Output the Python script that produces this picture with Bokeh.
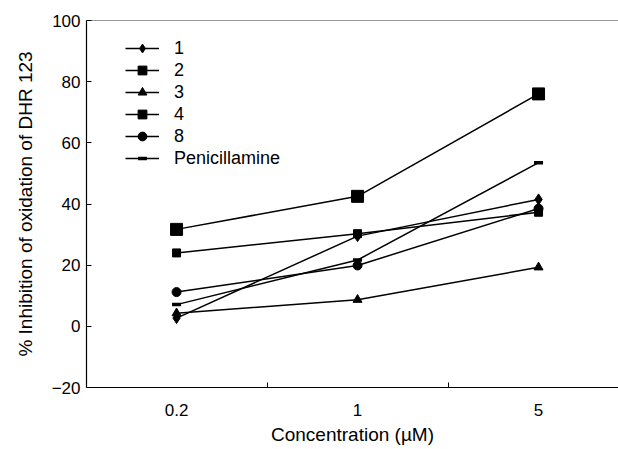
from bokeh.plotting import figure
from bokeh.models import (FixedTicker, CustomJSTickFormatter, LinearAxis, Legend,
                          LegendItem, Range1d)
from bokeh.embed import file_html
from bokeh.resources import INLINE

# ---- data ----
concentration = [0.2, 1, 5]
tick_labels = ["0.2", "1", "5"]
series_names = ["1", "2", "3", "4", "8", "Penicillamine"]
s1 = [2.7, 29.5, 41.5]
s2 = [24.0, 30.3, 37.3]
s3 = [4.3, 8.7, 19.3]
s4 = [31.7, 42.5, 76.0]
s8 = [11.2, 19.9, 38.5]
penicillamine = [7.1, 21.7, 53.5]

FONT = "Liberation Sans"

p = figure(width=618, height=449, output_backend="svg", toolbar_location=None,
           x_axis_type="log", x_range=Range1d(0.0898, 10.18),
           y_range=Range1d(-20, 100),
           min_border_left=86, min_border_right=0, min_border_top=20,
           min_border_bottom=62)
p.outline_line_color = None
p.grid.grid_line_color = None
p.background_fill_color = "white"

# x axis
xa = p.xaxis[0]
xa.ticker = FixedTicker(ticks=concentration, minor_ticks=[0.4472, 2.236])
xa.formatter = CustomJSTickFormatter(code="return tick < 1 ? tick.toFixed(1) : tick.toFixed(0);")
xa.major_tick_line_color = None
xa.minor_tick_in = 5
xa.minor_tick_out = 0
xa.minor_tick_line_color = "black"
xa.axis_line_color = "black"
xa.axis_line_width = 1.2
xa.axis_label = "Concentration (\u00b5M)"
xa.major_label_standoff = 10
xa.axis_label_standoff = 5

# y axis
ya = p.yaxis[0]
ya.ticker = FixedTicker(ticks=[-20, 0, 20, 40, 60, 80, 100], minor_ticks=[])
ya.major_tick_in = 5
ya.major_tick_out = 0
ya.axis_line_width = 1.2
ya.axis_label = "% Inhibition of oxidation of DHR 123"
ya.major_label_standoff = 6
ya.axis_label_standoff = 13

for ax in (xa, ya):
    ax.major_label_text_font = FONT
    ax.major_label_text_font_size = "17px"
    ax.major_label_text_color = "black"
    ax.axis_label_text_font = FONT
    ax.axis_label_text_font_size = "19px"
    ax.axis_label_text_font_style = "normal"
    ax.axis_label_text_color = "black"

# top border as a plain axis
top = LinearAxis(ticker=FixedTicker(ticks=[]), major_label_text_font_size="0px",
                 major_tick_line_color=None, minor_tick_line_color=None,
                 axis_line_color="#9a9a9a", axis_line_width=1)
p.add_layout(top, "above")

styles = [
    (s1, "diamond", 11),
    (s2, "square", 8),
    (s3, "triangle", 9),
    (s4, "square", 12),
    (s8, "circle", 9),
    (penicillamine, "dash", 9),
]

items = []
for name, (vals, marker, size) in zip(series_names, styles):
    ln = p.line(concentration, vals, line_color="black", line_width=1.5)
    if marker == "dash":
        sc = p.scatter(concentration, vals, marker="dash", size=size,
                       line_color="black", line_width=3.5)
    else:
        sc = p.scatter(concentration, vals, marker=marker, size=size,
                       fill_color="black", line_color="black")
    items.append(LegendItem(label=name, renderers=[ln, sc]))

legend = Legend(items=items, location=(39, 218), margin=0, padding=0,
                glyph_width=34, glyph_height=22, label_height=22, spacing=0,
                label_standoff=15, label_text_font=FONT,
                label_text_font_size="18px", label_text_color="black",
                border_line_color=None, background_fill_alpha=0)
p.add_layout(legend, "center")

open("out.html", "w").write(file_html(p, INLINE))
